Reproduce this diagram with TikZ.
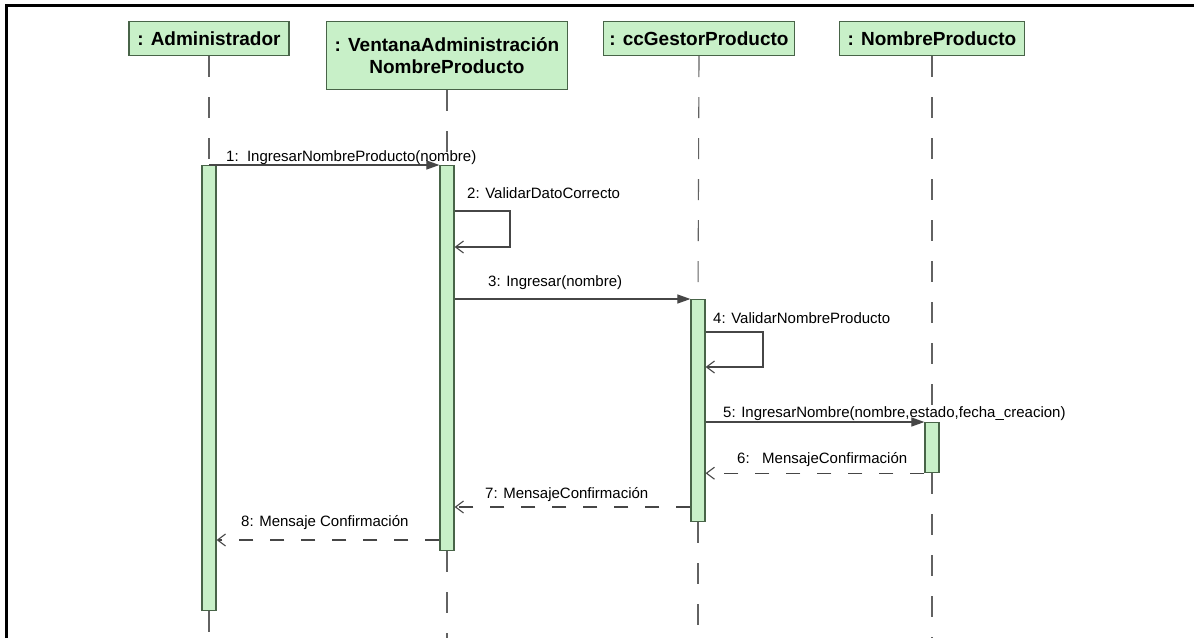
\documentclass[tikz,border=0pt]{standalone}
\usepackage{fontspec}
\setmainfont{Liberation Sans}
\usetikzlibrary{arrows.meta}
\definecolor{actfill}{RGB}{200,240,200}
\definecolor{actline}{RGB}{72,100,72}
\definecolor{msgline}{RGB}{70,70,70}
\begin{document}
\begin{tikzpicture}[x=1pt,y=-1pt,
  hdr/.style={draw=actline,line width=1.2pt,fill=actfill,anchor=north,
    inner sep=0pt,align=center,font=\fontsize{19}{22}\selectfont\bfseries},
  bar/.style={draw=actline,line width=1.2pt,fill=actfill,anchor=north,
    minimum width=14pt,inner sep=0pt},
  lifeline/.style={draw=msgline!85,line width=1.1pt,dash pattern=on 21pt off 20pt},
  call/.style={draw=msgline,line width=1.1pt,-{Triangle[length=13pt,width=9pt]}},
  reply/.style={draw=msgline,line width=1.1pt,dash pattern=on 14pt off 17pt,
    -{Straight Barb[length=8pt,width=12pt]}},
  self/.style={draw=msgline,line width=1.1pt,-{Straight Barb[length=8pt,width=12pt]}},
  lbl/.style={anchor=base west,inner sep=0pt,font=\fontsize{15}{18}\selectfont}]
\useasboundingbox (0,0) rectangle (1194,638);
\fill[white] (0,0) rectangle (1194,638);
% frame
\draw[black,line width=3pt] (6,638) -- (6,5) -- (1194,5);

% object headers
\node[hdr,minimum width=160pt,minimum height=34pt] (hA) at (209,21) {: Administrador};
\node[hdr,minimum width=241pt,minimum height=68pt] (hV) at (447,21)
  {: VentanaAdministración\\NombreProducto};
\node[hdr,minimum width=191pt,minimum height=34pt] (hG) at (699,21) {: ccGestorProducto};
\node[hdr,minimum width=185pt,minimum height=34pt] (hN) at (932,21) {: NombreProducto};

% activation bars
\node[bar,minimum height=445pt] (bA) at (209,165) {};
\node[bar,minimum height=385pt] (bV) at (447,165) {};
\node[bar,minimum height=222pt] (bG) at (698,299) {};
\node[bar,minimum height=50pt]  (bN) at (932,422) {};

\coordinate (bottom) at (0,638);

% lifelines
\draw[lifeline] (hA.south) -- (bA.north);
\draw[lifeline] (bA.south) -- (bA.south |- bottom);
\draw[lifeline] (hV.south) -- (bV.north);
\draw[lifeline] (bV.south) -- (bV.south |- bottom);
\draw[lifeline] (hG.south) -- (bG.north);
\draw[lifeline] (bG.south) -- (bG.south |- bottom);
\draw[lifeline] (hN.south) -- (bN.north);
\draw[lifeline] (bN.south) -- (bN.south |- bottom);

% 1
\draw[call] (bA.north) -- (bV.north west);
\node[lbl] (l1) at (226,161) {1:\ \ IngresarNombreProducto(nombre)};
% 2
\draw[self] (bV.east |- 0,211) -- (510,211) -- (510,247) -- (bV.east |- 0,247);
\node[lbl] (l2) at (467,198) {2: ValidarDatoCorrecto};
% 3
\draw[call] (bV.east |- bG.north) -- (bG.north west);
\node[lbl] (l3) at (488,286) {3: Ingresar(nombre)};
% 4
\draw[self] (bG.east |- 0,332) -- (763,332) -- (763,367) -- (bG.east |- 0,367);
\node[lbl] (l4) at (713,323) {4: ValidarNombreProducto};
% 5
\draw[call] (bG.east |- bN.north) -- (bN.north west);
\node[lbl] (l5) at (723,417) {5: IngresarNombre(nombre,estado,fecha\_creacion)};
% 6
\draw[reply] (bN.south west) -- (bG.east |- bN.south);
\node[lbl] (l6) at (737,463) {6:\ \ \ MensajeConfirmación};
% 7
\draw[reply] (bG.west |- 0,507) -- (bV.east |- 0,507);
\node[lbl] (l7) at (485,498) {7: MensajeConfirmación};
% 8
\draw[reply] (bV.west |- 0,540) -- (bA.east |- 0,540);
\node[lbl] (l8) at (241,526) {8: Mensaje Confirmación};
\end{tikzpicture}
\end{document}
